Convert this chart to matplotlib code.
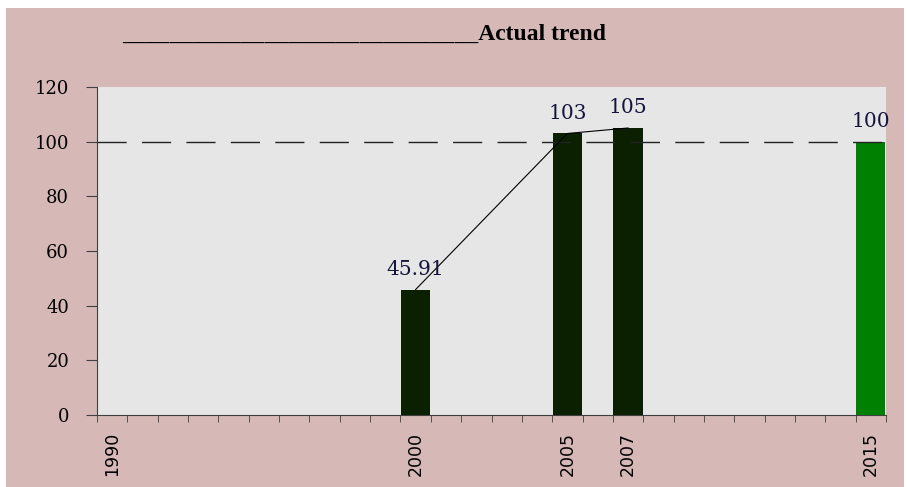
import matplotlib
matplotlib.use('agg')

import matplotlib.pyplot as plt
from matplotlib.patches import Rectangle
import numpy as np

# data
years = list(range(1990, 2016))
values = {2000: 45.91, 2005: 103, 2007: 105, 2015: 100}
trend_years = [2000, 2005, 2007]
shown_labels = [1990, 2000, 2005, 2007, 2015]
target = 100
yticks = [0, 20, 40, 60, 80, 100, 120]

bar_colors = {2000: '#0a2000', 2005: '#0a2000', 2007: '#0a2000', 2015: '#008000'}
label_text = {2000: '45.91', 2005: '103', 2007: '105', 2015: '100'}

fig = plt.figure(figsize=(9.07, 4.87), dpi=100, facecolor='white')
# pink frame of the chart area
fig.patches.append(Rectangle((6 / 907, 0), 898 / 907, 1 - 8 / 487,
                             transform=fig.transFigure, facecolor='#d6b9b6',
                             edgecolor='none', zorder=-5))

ax = fig.add_axes([97 / 907, 1 - 415 / 487, 789 / 907, 328 / 487])
ax.set_zorder(2)
ax.set_facecolor('#e6e6e6')

pos = {y: i for i, y in enumerate(years)}
for y, v in values.items():
    ax.bar(pos[y], v, width=0.96, color=bar_colors[y], zorder=2)
    ax.text(pos[y], v + 4, label_text[y], ha='center', va='bottom',
            fontsize=14.5, family='DejaVu Serif', color='#14143c', zorder=5)

ax.plot([pos[y] for y in trend_years], [values[y] for y in trend_years],
        color='black', lw=0.8, zorder=4)
ax.axhline(target, color='#222222', lw=1, dashes=(21, 11), zorder=3)

ax.set_xlim(-0.5, len(years) - 0.5)
ax.set_ylim(0, 120)
ax.set_yticks(yticks)
ax.set_yticklabels([str(t) for t in yticks], fontsize=13, family='DejaVu Serif')
ax.tick_params(axis='y', length=8, color='#404040', pad=12)

ax.set_xticks(np.arange(-0.5, len(years)), minor=True)
ax.set_xticks([pos[y] for y in shown_labels])
ax.set_xticklabels([str(y) for y in shown_labels], rotation=90, fontsize=12.5,
                   family='DejaVu Sans')
ax.tick_params(axis='x', which='major', length=0, pad=12)
ax.tick_params(axis='x', which='minor', length=5, color='#404040')

for s in ['top', 'right']:
    ax.spines[s].set_visible(False)
for s in ['left', 'bottom']:
    ax.spines[s].set_color('#404040')

fig.text(122 / 907, 1 - 40 / 487, '_' * 30 + 'Actual trend', fontsize=17,
         fontweight='bold', family='Liberation Serif', ha='left', va='baseline')

fig.savefig('out.png', dpi=100, facecolor=fig.get_facecolor())
